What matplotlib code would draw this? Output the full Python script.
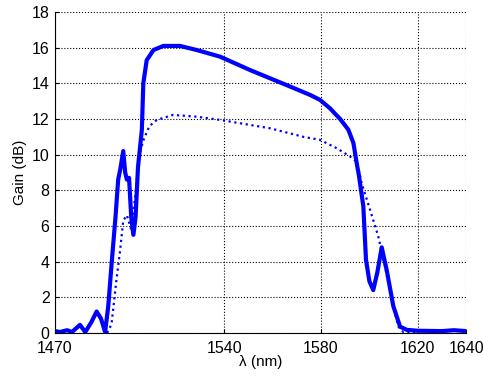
import numpy as np
import matplotlib
matplotlib.use("Agg")
import matplotlib.pyplot as plt

plt.rcParams['font.family'] = ['Liberation Sans', 'DejaVu Sans']

# solid curve (upper gain)
lam_solid = [1470, 1472, 1475, 1477, 1480.3, 1482.5, 1485, 1487.2, 1489, 1490.7,
             1492, 1493.4, 1495, 1496.1, 1497, 1498.2, 1499, 1499.7, 1500.6, 1501.5,
             1502.4, 1503.3, 1504.3, 1505.9, 1506.5, 1507.9, 1510.7, 1514.8, 1521.7, 1528.6,
             1538.2, 1550.6, 1565.8, 1575.5, 1579.6, 1583.7, 1587.9, 1591.3, 1593.4, 1595.0,
             1595.6, 1597.5, 1598.6, 1600, 1601.6, 1603.3, 1605.1, 1607.2, 1609.9, 1612.7,
             1615.5, 1620, 1630, 1635, 1640]
gain_solid = [0.1, 0.05, 0.15, 0.05, 0.45, 0.05, 0.6, 1.2, 0.8, 0.05,
              1.5, 3.9, 6.5, 8.6, 9.2, 10.2, 9.0, 8.6, 8.7, 6.5,
              5.5, 6.5, 9.3, 11.4, 14.0, 15.3, 15.87, 16.1, 16.1, 15.87,
              15.5, 14.75, 13.9, 13.35, 13.07, 12.6, 12.0, 11.4, 10.65, 9.33,
              8.9, 7.1, 4.1, 2.9, 2.4, 3.4, 4.8, 3.5, 1.5, 0.35,
              0.17, 0.12, 0.1, 0.15, 0.1]

# dotted curve (lower gain)
lam_dot = [1491.5, 1492.7, 1493.4, 1495.4, 1496.8, 1498.2, 1499.7, 1501.5, 1503, 1504.9,
           1506.5, 1509, 1512.1, 1518.8, 1528.6, 1538.2, 1558.9, 1572.7, 1579.6, 1586.5,
           1592, 1594.8, 1596.8, 1600.3, 1603.7, 1606.5, 1609.2, 1612.0, 1614, 1620]
gain_dot = [0, 0.3, 0.55, 3.0, 4.5, 6.3, 6.6, 5.8, 7.5, 10.0,
            10.8, 11.6, 11.95, 12.23, 12.13, 11.95, 11.48, 11.0, 10.83, 10.36,
            9.9, 9.6, 8.4, 6.9, 5.4, 3.7, 1.85, 0.35, 0.05, 0]

xticks = [1470, 1540, 1580, 1620, 1640]
yticks = np.arange(0, 19, 2)

fig = plt.figure(figsize=(4.83, 3.77), dpi=100)
ax = fig.add_axes([0.114, 0.117, 0.851, 0.851])

ax.plot(lam_dot, gain_dot, color='#0000ff', linestyle=(0, (1, 1.6)), linewidth=1.6)
ax.plot(lam_solid, gain_solid, color='#0000ff', linewidth=3)

ax.set_xlim(1470, 1640)
ax.set_ylim(0, 18)
ax.set_xticks(xticks)
ax.set_yticks(yticks)
ax.grid(True, linestyle=':', color='k', linewidth=0.8)
ax.spines['top'].set_visible(False)
ax.spines['right'].set_visible(False)
ax.tick_params(direction='in', length=3, labelsize=11.5)
ax.tick_params(axis='x', pad=6)
ax.tick_params(axis='y', pad=4)
ax.set_xlabel('λ (nm)', fontsize=11, labelpad=-1)
ax.set_ylabel('Gain (dB)', fontsize=11, labelpad=3)

fig.savefig('out.png', dpi=100)
